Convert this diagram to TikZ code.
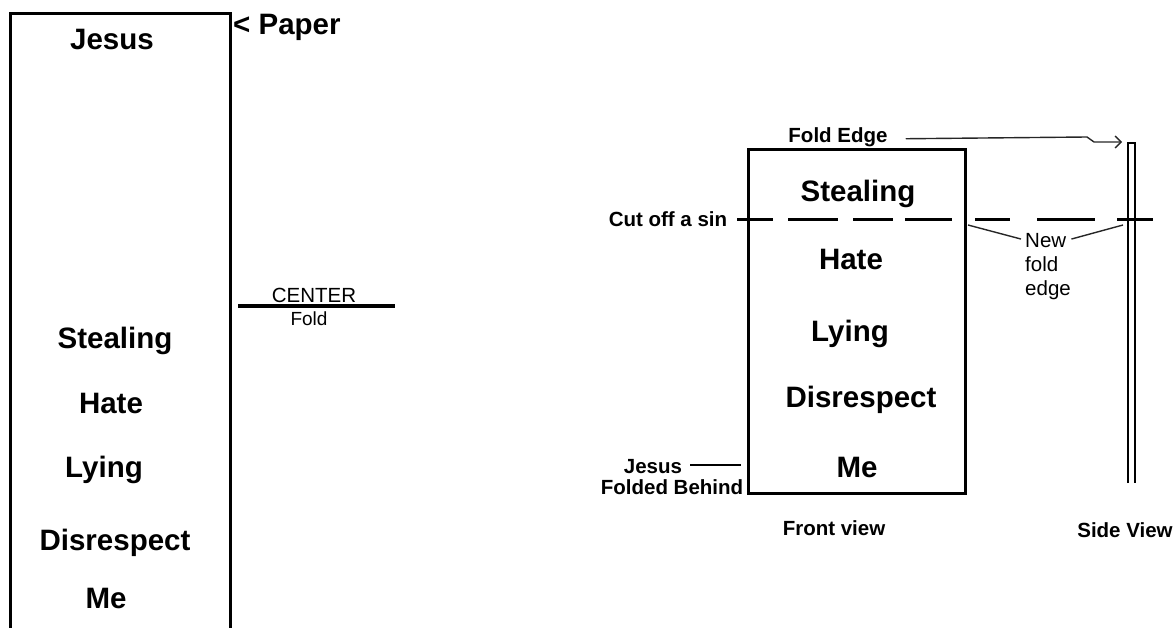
\documentclass[tikz,border=0pt]{standalone}
\usepackage{fontspec}
\setmainfont{Liberation Sans}
\usetikzlibrary{arrows.meta}
\begin{document}
\begin{tikzpicture}[x=1pt,y=-1pt,
  big/.style={font=\bfseries\fontsize{29.5}{31}\selectfont, anchor=base, inner sep=0pt},
  lbl/.style={font=\bfseries\fontsize{20.5}{22}\selectfont, anchor=base, inner sep=0pt},
  note/.style={font=\fontsize{20.5}{22}\selectfont, anchor=base, inner sep=0pt},
  sheet/.style={line width=3pt},
  cut/.style={line width=3pt},
  conn/.style={line width=1.4pt, black!85},
  sideline/.style={line width=2pt}]
\useasboundingbox (0,0) rectangle (1175,628);

% ---- the sheet of paper, unfolded ----
\draw[sheet] (10,640) -- (10,14) -- (230,14) -- (230,640);
\node[big] (jesusL) at (112,50) {Jesus};
\node[big, anchor=base west] (paper) at (233,35) {< Paper};
\node[big] (stealL) at (115,348) {Stealing};
\node[big] (hateL) at (111,413) {Hate};
\node[big] (lyingL) at (104,477) {Lying};
\node[big] (disL) at (115,550) {Disrespect};
\node[big] (meL) at (106,608) {Me};

% centre fold mark
\coordinate (cfA) at (238,306);
\coordinate (cfB) at (395,306);
\draw[line width=3pt] (cfA) -- (cfB);
\node[note, font=\fontsize{20.5}{22}\selectfont] (centerT) at (314,302) {CENTER};
\node[note, font=\fontsize{19}{21}\selectfont] (foldT) at (309,325) {Fold};

% ---- front view of the folded sheet ----
\node[draw, line width=3pt, minimum width=217pt, minimum height=343pt, inner sep=0pt]
  (front) at (856.5,321.5) {};
\node[big] (stealF) at (858,202) {Stealing};
\node[big] (hateF) at (851,270) {Hate};
\node[big] (lyingF) at (850,341) {Lying};
\node[big] (disF) at (861,407) {Disrespect};
\node[big] (meF) at (857,477) {Me};
\node[lbl] (frontT) at (834,535) {Front view};

\node[lbl] (foldEdge) at (838,143) {Fold Edge};
\node[lbl] (cutT) at (668,227) {Cut off a sin};
\node[lbl] (jesusF) at (653,473) {Jesus};
\node[lbl] (behindF) at (672,494) {Folded Behind};
\draw[line width=2pt] ([xshift=8pt,yshift=1pt]jesusF.east) -- ([xshift=-6pt,yshift=1pt]jesusF.east -| front.west);

% the cut line
\foreach \a/\b in {737/773,788/838,853/893,905/952,975/1010,1037/1095,1117/1153}
  \draw[cut] (\a,220) -- (\b,220);

% ---- side view ----
\coordinate (sideL) at (1128,143);
\coordinate (sideR) at (1135,143);
\draw[sideline] (1128,483) -- (sideL) -- (sideR) -- (1135,483);
\node[lbl] (sideT) at (1125,537) {Side View};

% fold edge pointer
\coordinate (tip) at (1122,142);
\draw[conn, -{Straight Barb[length=6pt,width=12pt]}]
  ([xshift=18pt,yshift=-1pt]foldEdge.east) -- (1087,137) -- (1094,142) -- (tip);

% new fold edge label and its leaders
\node[note, anchor=base west] (newA) at (1025,248) {New};
\node[note, anchor=base west] (newB) at (1025,272) {fold};
\node[note, anchor=base west] (newC) at (1025,295) {edge};
\draw[conn] (968,225) -- ([xshift=-4pt,yshift=2pt]newA.west);
\draw[conn] ([xshift=5pt,yshift=2pt]newA.east) -- (1123,225);
\end{tikzpicture}
\end{document}
